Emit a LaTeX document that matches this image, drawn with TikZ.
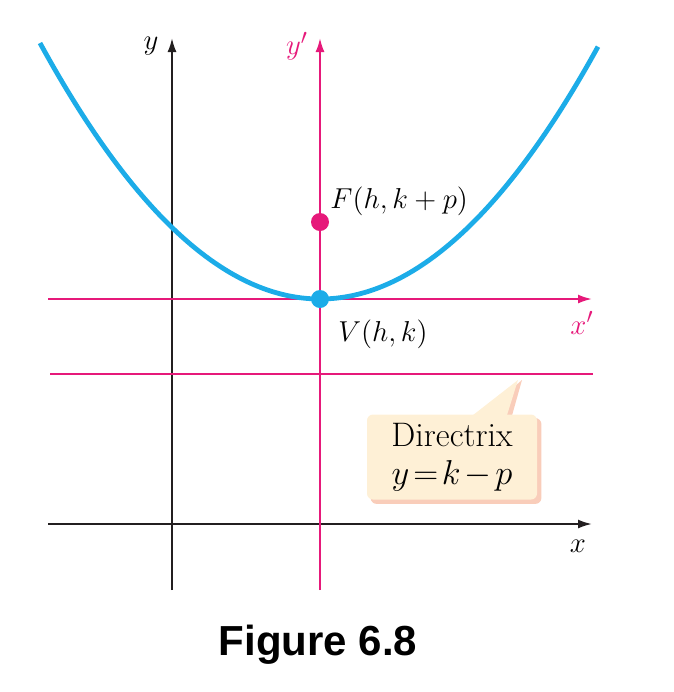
\documentclass[tikz,border=0pt]{standalone}
\usepackage{fontspec}
\newfontfamily\figfont{Liberation Sans}
\usepackage{tikz}
\usetikzlibrary{arrows.meta,positioning,calc,backgrounds}
\usepackage{amsmath}
\usepackage{xcolor}
\definecolor{curveblue}{RGB}{28,172,232}
\definecolor{axpink}{RGB}{230,25,122}
\definecolor{axdark}{RGB}{35,31,32}
\definecolor{boxfill}{RGB}{254,240,214}
\definecolor{boxshade}{RGB}{249,205,186}

\begin{document}
\begin{tikzpicture}[x=0.5pt,y=-0.5pt,
      axis/.style={line width=1pt, axdark, -{Latex[length=7pt,width=4.5pt]}},
      paxis/.style={line width=1pt, axpink, -{Latex[length=7pt,width=4.5pt]}},
      lbl/.style={font=\fontsize{15}{18}\selectfont, inner sep=1pt},
      callbox/.style={fill=boxfill, rounded corners=3pt, minimum width=85pt, minimum height=42.5pt, align=center, font=\fontsize{17}{18}\selectfont, inner sep=2pt},
      dot/.style={circle, inner sep=0pt, minimum size=9pt}
    ]
    \useasboundingbox (0,0) rectangle (674,692);

    % axes
    \coordinate (ybot) at (172,590);
    \coordinate (ytop) at (172,38);
    \coordinate (xleft) at (48,524);
    \coordinate (xright) at (592,524);
    \coordinate (ypbot) at (320,590);
    \coordinate (yptop) at (320,38);
    \coordinate (xpleft) at (48,299);
    \coordinate (xpright) at (592,299);
    \coordinate (dleft) at (50,374);
    \coordinate (dright) at (593,374);

    \draw[axis] (ybot) -- (ytop);
    \draw[axis] (xleft) -- (xright);
    \draw[paxis] (ypbot) -- (yptop);
    \draw[paxis] (xpleft) -- (xpright);
    \draw[line width=1pt, axpink] (dleft) -- (dright);

    \node[lbl] (ylab) at (151,46) {$y$};
    \node[lbl] (xlab) at (578,546) {$x$};
    \node[lbl, axpink] (yplab) at (297,46) {$y'$};
    \node[lbl, axpink] (xplab) at (582,323) {$x'$};

    % parabola
    \draw[curveblue, line width=2.4pt, domain=40:598, samples=80, smooth]
      plot (\x, {299-32.65*((\x-320)/100)^2});

    \node[dot, fill=curveblue] (vtx) at (320,299) {};
    \node[dot, fill=axpink] (foc) at (320,222) {};
    \node[lbl, anchor=west] (flab) at (328,201) {$F(h,k+p)$};
    \node[lbl, anchor=west] (vlab) at (336,334) {$V(h,k)$};

    % directrix callout
    \node[callbox] (dirbox) at (452,457) {Directrix\\[1pt]$\medmuskip=2mu\thickmuskip=2mu y=k-p$};
    \coordinate (ptip) at (518,380);
    \begin{scope}[on background layer]
      \fill[boxshade, rounded corners=3pt] ([shift={(4,4)}]dirbox.south west) rectangle ([shift={(4,4)}]dirbox.north east);
      \fill[boxshade] ($(dirbox.north)+(25,5)$) -- ($(ptip)+(4,0)$) -- ($(dirbox.north)+(59,5)$) -- cycle;
      \fill[boxfill] ($(dirbox.north)+(21,1)$) -- (ptip) -- ($(dirbox.north)+(55,1)$) -- cycle;
    \end{scope}

    \node[font=\figfont\bfseries\fontsize{21}{24}\selectfont] (cap) at (318,645) {Figure 6.8};
  \end{tikzpicture}
\end{document}
